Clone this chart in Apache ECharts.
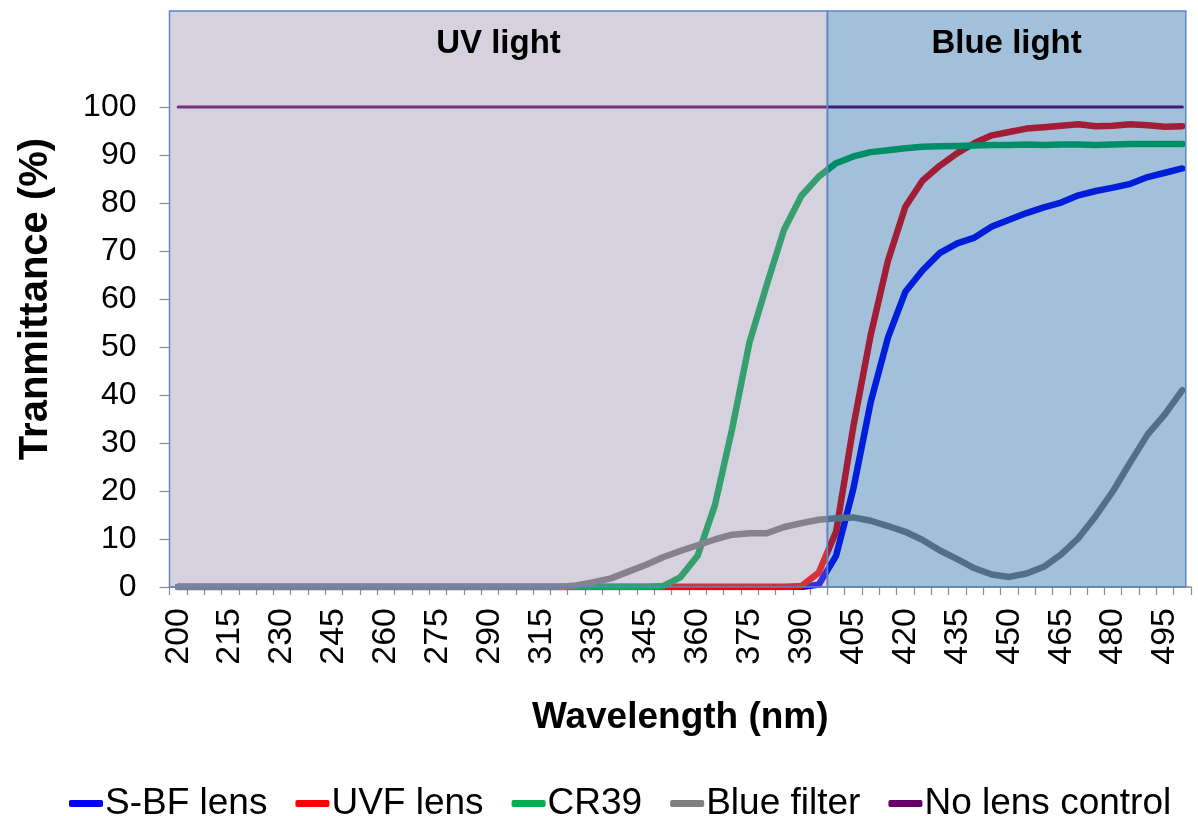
<!DOCTYPE html>
<html>
<head>
<meta charset="utf-8">
<script src="https://cdn.jsdelivr.net/npm/echarts@6/dist/echarts.min.js"></script>
<style>
html,body{margin:0;padding:0;background:#fff;}
#main{width:1198px;height:816px;}
</style>
</head>
<body>
<div id="main"></div>
<script>
// Wavelength categories (nm) as used on the original category axis
var wavelengths = ['200','205','210','215','220','225','230','235','240','245',
  '250','255','260','265','270','275','280','285','290','300',
  '310','315','320','325','330','335','340','345','350','355',
  '360','365','370','375','380','385','390','395','400','405',
  '410','415','420','425','430','435','440','445','450','455',
  '460','465','470','475','480','485','490','495','500'];

var seriesNames = ['S-BF lens','UVF lens','CR39','Blue filter','No lens control'];

var sbfLens = [0,0,0,0,0,0,0,0,0,0, 0,0,0,0,0,0,0,0,0,0,
  0,0,0,0,0,0,0,0,0,0, 0,0,0,0,0,0,0,
  0.5,6.5,20.5,38.5,52,61.5,66,69.6,71.6,72.8,
  75.1,76.5,77.9,79.1,80.1,81.6,82.5,83.2,84,85.4,
  86.3,87.2];

var uvfLens = [0,0,0,0,0,0,0,0,0,0, 0,0,0,0,0,0,0,0,0,0,
  0,0,0,0,0,0,0,0,0,0, 0,0,0,0,0,0,
  0.2,3,11.5,33.5,52.5,68,79.2,84.7,87.8,90.4,
  92.5,94.1,94.8,95.5,95.8,96.1,96.4,96,96.1,96.4,
  96.2,95.9,96];

var cr39 = [0,0,0,0,0,0,0,0,0,0, 0,0,0,0,0,0,0,0,0,0,
  0,0,0,0,0,0,0,0,
  0.2,2,6.5,17,33,51,63,74.5,81.5,85.5,
  88.3,89.7,90.6,91,91.4,91.7,91.8,91.9,92,92.1,
  92.1,92.2,92.1,92.2,92.2,92.1,92.2,92.3,92.3,92.3,
  92.3];

var blueFilter = [0,0,0,0,0,0,0,0,0,0, 0,0,0,0,0,0,0,0,0,0,
  0,0,0,
  0.3,1,1.8,3.2,4.6,6.2,7.5,8.7,9.9,10.9,
  11.2,11.2,12.5,13.3,14,14.3,14.5,13.8,12.7,11.5,
  9.8,7.6,5.8,3.9,2.6,2.1,2.8,4.2,6.8,10.2,
  14.8,20,26,31.8,36,41];

var noLensControl = [100,100,100,100,100,100,100,100,100,100, 100,100,100,100,100,100,100,100,100,100,
  100,100,100,100,100,100,100,100,100,100, 100,100,100,100,100,100,100,100,100,100,
  100,100,100,100,100,100,100,100,100,100, 100,100,100,100,100,100,100,100,100];

var yTicks = [0,10,20,30,40,50,60,70,80,90,100];

// Shaded spectral bands, in category-slot units along the x axis
var bandNames = ['UV light','Blue light'];
var bandFrom = [0, 38];
var bandTo = [38, 58.7];

var colors = ['#0000ff','#ff0000','#00b050','#808080','#660066'];
var FONT = "'Liberation Sans', Arial, Helvetica, sans-serif";

var chart = echarts.init(document.getElementById('main'));

var lineData = [sbfLens, uvfLens, cr39, blueFilter, noLensControl];
var series = lineData.map(function(d, i){
  return {
    name: seriesNames[i],
    type: 'line',
    data: d,
    xAxisIndex: 0,
    yAxisIndex: 0,
    showSymbol: false,
    symbol: 'none',
    z: 2,
    lineStyle: {width: i === 4 ? 3 : 6.5, color: colors[i], cap: 'round', join: 'round'},
    itemStyle: {color: colors[i]}
  };
});

var bandFill = ['rgba(145,129,166,0.37)','rgba(0,82,150,0.365)'];
series.push({
  type: 'line',
  xAxisIndex: 1,
  yAxisIndex: 0,
  data: [],
  silent: true,
  markArea: {
    z: 10,
    silent: true,
    data: bandNames.map(function(n, i){
      return [
        {name: n, xAxis: bandFrom[i], yAxis: 0,
         itemStyle: {color: bandFill[i], borderColor: '#5b87c2', borderWidth: 1.5},
         label: {show: true, position: 'insideTop', distance: 17,
           color: '#000', fontWeight: 'bold', fontSize: 33, fontFamily: FONT}},
        {xAxis: bandTo[i], yAxis: 120}
      ];
    })
  }
});

chart.setOption({
  animation: false,
  color: colors,
  grid: {left: 169.5, right: 7, top: 11, bottom: 229, containLabel: false},
  legend: {
    data: seriesNames,
    top: 780,
    left: 64,
    icon: 'roundRect',
    itemWidth: 34,
    itemHeight: 7,
    itemGap: 28,
    textStyle: {fontSize: 37, color: '#000', fontFamily: FONT, padding: [0,0,0,-3]}
  },
  xAxis: [{
    type: 'category',
    data: wavelengths,
    boundaryGap: true,
    name: 'Wavelength (nm)',
    nameLocation: 'middle',
    nameGap: 112,
    nameTextStyle: {fontSize: 37, fontWeight: 'bold', color: '#000', fontFamily: FONT},
    axisLine: {show: true, lineStyle: {color: '#8c8c8c', width: 1.5}},
    axisTick: {show: true, interval: 0, length: 8, lineStyle: {color: '#8c8c8c', width: 1.2}},
    axisLabel: {interval: 2, rotate: 90, margin: 21, fontSize: 34, color: '#000', fontFamily: FONT},
    splitLine: {show: false}
  }, {
    type: 'value',
    min: 0,
    max: 59,
    show: false
  }],
  yAxis: [{
    type: 'value',
    min: 0,
    max: 120,
    interval: 10,
    name: 'Tranmittance (%)',
    nameLocation: 'middle',
    nameGap: 114,
    nameTextStyle: {fontSize: 40, fontWeight: 'bold', color: '#000', fontFamily: FONT},
    axisLine: {show: false},
    axisTick: {show: true, length: 10, customValues: yTicks, lineStyle: {color: '#8c8c8c', width: 1.2}},
    axisLabel: {customValues: yTicks, margin: 33, fontSize: 32, color: '#000', fontFamily: FONT},
    splitLine: {show: false}
  }],
  series: series
});
</script>
</body>
</html>
